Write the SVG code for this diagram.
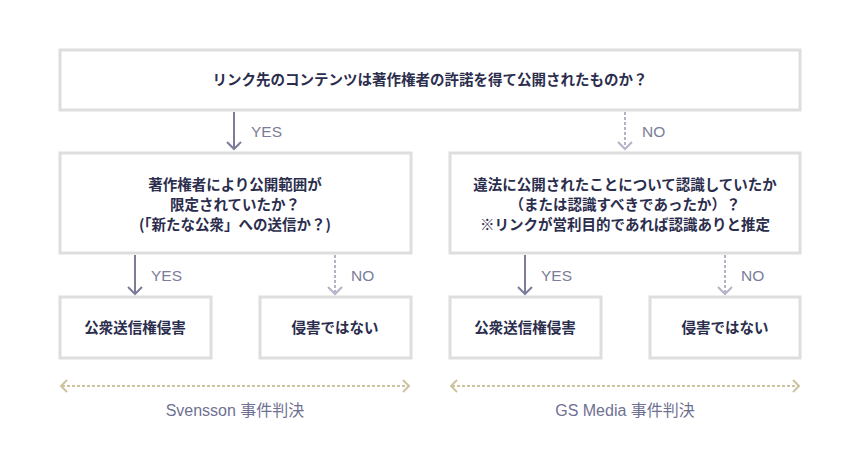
<svg xmlns="http://www.w3.org/2000/svg" width="860" height="470" viewBox="0 0 860 470">
<defs>
<style>
.box{fill:#ffffff;stroke:#dedede;stroke-width:3}
.t{font-family:"Noto Sans CJK JP","Liberation Sans",sans-serif;font-weight:bold;font-size:14.5px;fill:#2b2d4d;text-anchor:middle}
.lbl{font-family:"Liberation Sans","Noto Sans CJK JP",sans-serif;font-size:15.5px;fill:#7b7d99}
.cap{font-family:"Liberation Sans","Noto Sans CJK JP",sans-serif;font-size:16px;fill:#6f7192;text-anchor:middle}
.yes{fill:none;stroke:#7c7c9a;stroke-width:2}
.no{fill:none;stroke:#b3b3c8;stroke-width:2}
.nod{stroke-dasharray:3 2}
.span{fill:none;stroke:#cdc3a0;stroke-width:2}
.spd{stroke-dasharray:3 2}
</style>
</defs>
<rect width="860" height="470" fill="#ffffff"/>
<g id="connectors">
<line class="yes" x1="234" y1="112" x2="234" y2="149"/>
<polyline class="yes" points="227,142 234,149 241,142"/>
<line class="no nod" x1="625" y1="112" x2="625" y2="147"/>
<polyline class="no" points="618,142 625,149 632,142"/>
<line class="yes" x1="135" y1="255" x2="135" y2="294"/>
<polyline class="yes" points="128,287 135,294 142,287"/>
<line class="no nod" x1="335" y1="255" x2="335" y2="292"/>
<polyline class="no" points="328,287 335,294 342,287"/>
<line class="yes" x1="525" y1="255" x2="525" y2="294"/>
<polyline class="yes" points="518,287 525,294 532,287"/>
<line class="no nod" x1="725" y1="255" x2="725" y2="292"/>
<polyline class="no" points="718,287 725,294 732,287"/>
<text class="lbl" x="251" y="137">YES</text>
<text class="lbl" x="642" y="137">NO</text>
<text class="lbl" x="151" y="281">YES</text>
<text class="lbl" x="351" y="281">NO</text>
<text class="lbl" x="541" y="281">YES</text>
<text class="lbl" x="741" y="281">NO</text>
</g>
<g id="span-svensson">
<line class="span spd" x1="62" y1="386" x2="408" y2="386"/>
<polyline class="span" points="67,380 61,386 67,392"/>
<polyline class="span" points="403,380 409,386 403,392"/>
<text class="cap" x="235" y="416">Svensson 事件判決</text>
</g>
<g id="span-gsmedia">
<line class="span spd" x1="452" y1="386" x2="798" y2="386"/>
<polyline class="span" points="457,380 451,386 457,392"/>
<polyline class="span" points="793,380 799,386 793,392"/>
<text class="cap" x="625" y="416">GS Media 事件判決</text>
</g>
<g id="q1">
<rect class="box" x="60" y="50" width="740" height="60"/>
<text class="t" x="430" y="85">リンク先のコンテンツは著作権者の許諾を得て公開されたものか？</text>
</g>
<g id="q2">
<rect class="box" x="60" y="153" width="351" height="100"/>
<text class="t" x="235" y="190">著作権者により公開範囲が</text>
<text class="t" x="235" y="210">限定されていたか？</text>
<text class="t" x="235" y="230">(「新たな公衆」への送信か？)</text>
</g>
<g id="q3">
<rect class="box" x="450" y="153" width="350" height="100"/>
<text class="t" x="625" y="190">違法に公開されたことについて認識していたか</text>
<text class="t" x="625" y="210">（または認識すべきであったか）？</text>
<text class="t" x="625" y="230">※リンクが営利目的であれば認識ありと推定</text>
</g>
<g id="r1">
<rect class="box" x="60" y="297" width="151" height="61"/>
<text class="t" x="135" y="333">公衆送信権侵害</text>
</g>
<g id="r2">
<rect class="box" x="260" y="297" width="151" height="61"/>
<text class="t" x="335" y="333">侵害ではない</text>
</g>
<g id="r3">
<rect class="box" x="450" y="297" width="151" height="61"/>
<text class="t" x="525" y="333">公衆送信権侵害</text>
</g>
<g id="r4">
<rect class="box" x="650" y="297" width="150" height="61"/>
<text class="t" x="725" y="333">侵害ではない</text>
</g>
</svg>
